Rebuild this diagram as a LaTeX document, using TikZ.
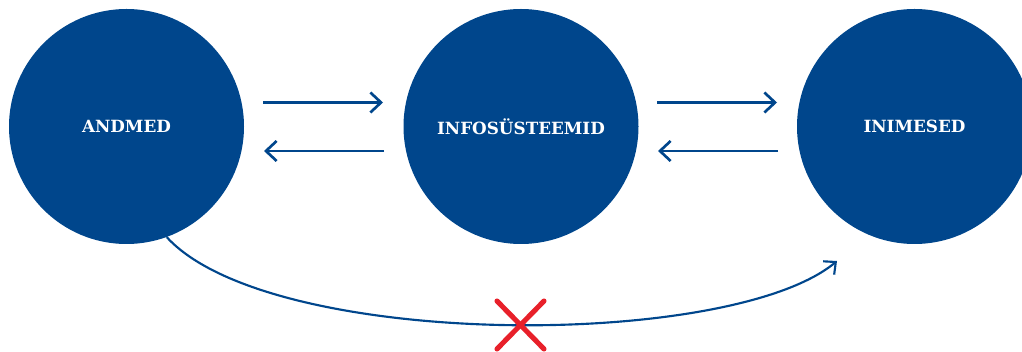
\documentclass[tikz,border=0pt]{standalone}
\usepackage{fontspec}
\setmainfont{DejaVu Serif}
\usetikzlibrary{arrows.meta}
\definecolor{navy}{RGB}{0,70,140}
\definecolor{crossred}{RGB}{232,32,42}
\newlength{\pxu}
\setlength{\pxu}{0.75pt}
\tikzset{
  bubble/.style={circle, fill=navy, draw=none, minimum size=235\pxu, inner sep=0pt,
    text=white, font=\fontsize{12.6}{14}\selectfont\bfseries},
  flow/.style={draw=navy, line width=2pt, -{Straight Barb[length=8pt,width=15pt]}},
  skip/.style={draw=navy, line width=1.6pt, -{Straight Barb[length=7pt,width=13pt]}},
  nope/.style={draw=crossred, line width=3.8pt, line cap=round}
}
\begin{document}
\begin{tikzpicture}[x=0.75pt,y=-0.75pt]
\useasboundingbox (0,0) rectangle (1022,352);
\clip (0,0) rectangle (1022,352);
\node[bubble] (a) at (126.5,126.5) {ANDMED};
\node[bubble] (b) at (521,126.5) {INFOSÜSTEEMID};
\node[bubble] (c) at (914.5,126.5) {INIMESED};
\coordinate (a1) at (263,102.5);
\coordinate (b1) at (383,102.5);
\coordinate (b2) at (384,151);
\coordinate (a2) at (264,151);
\coordinate (b3) at (657,102.5);
\coordinate (c3) at (777,102.5);
\coordinate (c4) at (778,151);
\coordinate (b4) at (658,151);
\draw[flow] (a1) -- (b1);
\draw[flow] (b2) -- (a2);
\draw[flow] (b3) -- (c3);
\draw[flow] (c4) -- (b4);
\coordinate (end) at (837,261);
\draw[skip] (a.-70) .. controls (270,350) and (730,350) .. (end);
\coordinate (x1) at (497,301);
\coordinate (x2) at (544,349);
\coordinate (x3) at (544,301);
\coordinate (x4) at (497,349);
\draw[nope] (x1) -- (x2);
\draw[nope] (x3) -- (x4);
\end{tikzpicture}
\end{document}
